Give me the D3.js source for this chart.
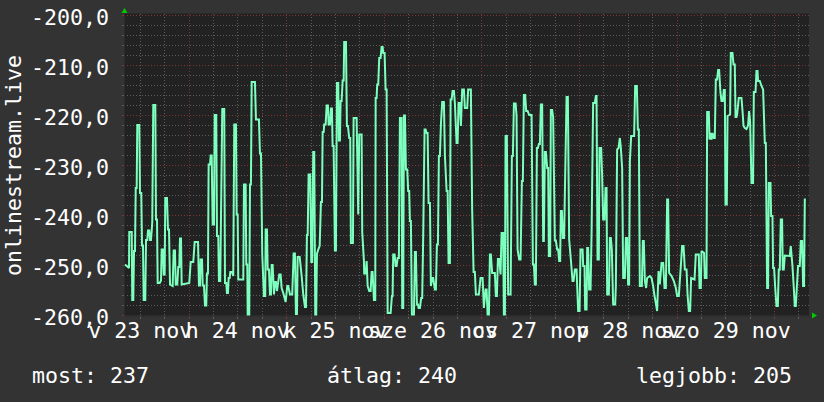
<!DOCTYPE html>
<html><head><meta charset="utf-8">
<script src="https://d3js.org/d3.v7.min.js"></script>
<style>html,body{margin:0;padding:0;background:#333333;} svg{display:block;}</style>
</head><body><svg id="c" width="824" height="402"></svg>
<script>
// ---- data ----
const startUTC = Date.UTC(2025, 10, 23, 8, 8);   // left edge of the graph
const spanMinutes = 10107;                         // ~7 days shown
const minutes = [
15,74,78,114,122,137,148,162,173,187,
196,226,236,255,266,280,291,314,325,344,
354,373,384,398,409,417,432,462,472,487,
497,527,546,556,575,586,600,609,634,649,
664,679,718,733,752,763,786,801,816,826,
841,851,963,984,1022,1043,1092,1106,1121,1131,
1151,1161,1180,1195,1214,1224,1239,1249,1269,1279,
1294,1308,1328,1338,1361,1372,1391,1401,1420,1450,
1479,1490,1509,1519,1534,1544,1559,1568,1593,1612,
1627,1652,1662,1677,1686,1760,1770,1795,1804,1819,
1825,1848,1859,1873,1884,1932,1947,1991,2006,2021,
2040,2065,2084,2090,2109,2120,2139,2154,2168,2179,
2193,2213,2227,2242,2257,2291,2311,2326,2350,2385,
2409,2423,2449,2482,2503,2522,2537,2552,2562,2592,
2621,2645,2670,2685,2699,2710,2724,2748,2763,2777,
2792,2807,2822,2836,2847,2866,2887,2906,2921,2931,
2946,2954,2975,2990,3009,3019,3039,3053,3068,3078,
3093,3112,3127,3142,3161,3171,3186,3196,3211,3226,
3241,3249,3275,3289,3304,3323,3338,3348,3378,3388,
3432,3456,3471,3506,3515,3540,3544,3565,3580,3595,
3618,3639,3654,3668,3688,3707,3713,3727,3736,3751,
3766,3786,3801,3816,3825,3845,3860,3875,3890,3934,
3953,3963,3972,3993,4008,4022,4037,4056,4071,4096,
4105,4120,4130,4145,4160,4179,4193,4208,4219,4233,
4248,4278,4292,4307,4322,4337,4347,4366,4385,4400,
4415,4435,4450,4465,4480,4494,4514,4528,4547,4562,
4587,4602,4617,4632,4646,4661,4676,4695,4720,4735,
4760,4775,4789,4809,4819,4834,4848,4868,4882,4907,
4922,4937,4956,4971,4990,5015,5030,5064,5078,5118,
5137,5158,5177,5192,5236,5261,5291,5310,5335,5350,
5365,5384,5399,5413,5432,5472,5487,5502,5517,5536,
5556,5571,5595,5605,5620,5630,5649,5668,5704,5723,
5738,5753,5778,5792,5807,5831,5851,5871,5885,5900,
5919,5934,5955,5978,6014,6033,6048,6062,6077,6092,
6107,6121,6136,6151,6170,6185,6195,6210,6225,6244,
6259,6269,6288,6298,6317,6332,6357,6372,6391,6406,
6421,6435,6446,6461,6475,6494,6505,6530,6549,6568,
6593,6618,6633,6652,6677,6701,6722,6736,6766,6775,
6795,6804,6825,6834,6848,6863,6884,6899,6922,6947,
6962,6972,6987,7006,7016,7040,7055,7070,7090,7105,
7120,7129,7154,7169,7183,7198,7217,7247,7257,7276,
7297,7316,7331,7350,7365,7390,7405,7424,7438,7453,
7464,7483,7527,7542,7567,7582,7596,7611,7641,7655,
7670,7685,7704,7719,7759,7784,7807,7828,7847,7866,
7887,7906,7931,7955,7975,7995,8014,8028,8043,8079,
8113,8142,8161,8186,8216,8235,8256,8275,8300,8315,
8334,8353,8368,8418,8437,8481,8492,8511,8521,8559,
8570,8595,8604,8629,8639,8654,8669,8683,8703,8717,
8732,8751,8766,8781,8801,8816,8835,8850,8865,8875,
8894,8905,8943,8953,8978,8993,9012,9023,9037,9046,
9071,9111,9126,9141,9160,9185,9208,9223,9238,9259,
9282,9293,9318,9332,9347,9356,9381,9406,9430,9455,
9470,9489,9503,9514,9539,9548,9568,9577,9592,9607,
9627,9647,9661,9676,9691,9710,9720,9735,9750,9824,
9838,9863,9883,9897,9912,9927,9946,9971,9986,10005,
10020,10034,10045,10060
];
const values = [
-249.8,-250.5,-243.3,-243.3,-256.9,-256.9,-247.1,-247.1,-234.5,-234.5,
-221.9,-221.9,-235.5,-235.5,-246.0,-246.0,-256.9,-256.9,-244.9,-244.9,
-243.0,-243.0,-244.9,-244.9,-243.0,-241.3,-217.9,-217.9,-240.8,-240.8,
-253.5,-253.5,-253.0,-246.8,-246.8,-251.8,-251.8,-236.5,-236.5,-242.8,
-242.8,-253.8,-254.1,-247.0,-247.0,-253.8,-253.8,-250.3,-250.3,-244.6,
-244.6,-253.8,-253.5,-249.3,-249.3,-245.3,-245.3,-254.0,-254.0,-248.8,
-248.8,-254.0,-254.0,-258.0,-258.0,-251.6,-251.6,-229.8,-229.8,-228.0,
-228.0,-241.8,-241.8,-219.9,-219.9,-244.1,-244.1,-253.1,-253.1,-218.7,
-218.7,-253.5,-253.5,-255.5,-255.5,-252.5,-252.5,-251.3,-251.3,-252.1,
-221.8,-221.8,-239.8,-239.8,-252.8,-252.8,-233.8,-233.8,-249.8,-249.8,
-259.8,-259.8,-233.8,-233.8,-213.3,-213.3,-220.8,-220.8,-227.6,-227.6,
-247.8,-256.1,-256.1,-242.8,-242.8,-250.8,-250.8,-255.8,-255.8,-249.9,
-249.9,-255.8,-253.3,-253.3,-255.1,-251.8,-251.8,-254.5,-255.5,-257.3,
-254.1,-254.1,-255.8,-255.8,-247.6,-247.6,-259.7,-259.7,-248.3,-248.3,
-252.1,-255.8,-258.3,-258.3,-243.9,-243.9,-231.8,-231.8,-249.3,-249.3,
-227.3,-227.3,-259.8,-259.8,-247.7,-246.8,-246.1,-237.3,-237.3,-223.3,
-223.3,-221.8,-221.8,-218.0,-218.0,-221.8,-221.8,-218.6,-218.6,-226.1,
-226.1,-247.0,-247.0,-213.5,-213.5,-225.0,-225.0,-217.1,-217.1,-213.0,
-213.0,-205.3,-205.3,-222.1,-222.1,-224.5,-224.5,-245.5,-245.5,-220.5,
-220.5,-239.8,-223.8,-223.8,-243.3,-249.1,-251.6,-251.6,-249.1,-254.1,
-255.1,-255.1,-251.3,-251.3,-256.9,-256.9,-216.5,-216.5,-213.8,-213.8,
-208.5,-208.5,-206.3,-206.3,-207.5,-207.5,-214.8,-214.8,-259.5,-259.5,
-256.1,-256.1,-247.8,-247.8,-250.1,-250.1,-248.5,-248.5,-220.5,-220.5,
-258.5,-258.5,-220.0,-220.0,-230.8,-230.8,-235.1,-235.1,-241.1,-241.1,
-259.8,-259.8,-247.3,-247.3,-257.8,-257.8,-258.5,-258.5,-256.5,-256.5,
-243.9,-222.8,-222.8,-223.5,-223.5,-237.5,-237.5,-254.1,-252.5,-252.5,
-254.8,-254.8,-245.8,-245.8,-228.1,-228.1,-221.8,-217.3,-217.3,-228.1,
-235.1,-235.1,-249.5,-249.5,-216.8,-216.8,-215.1,-215.1,-217.5,-225.5,
-225.5,-217.5,-217.5,-222.1,-214.8,-214.8,-218.5,-218.5,-214.8,-214.8,
-238.8,-251.3,-251.3,-255.8,-255.8,-252.5,-252.5,-258.5,-254.8,-254.8,
-259.8,-259.8,-247.8,-247.8,-251.5,-251.5,-256.1,-256.1,-248.7,-248.7,
-251.8,-243.5,-243.5,-259.8,-259.8,-224.1,-224.1,-255.8,-255.8,-228.1,
-228.1,-217.6,-217.6,-220.0,-246.8,-248.8,-248.8,-233.1,-233.1,-215.9,
-215.9,-219.1,-219.1,-219.9,-219.9,-249.8,-249.8,-253.8,-253.8,-226.5,
-226.5,-225.7,-225.7,-217.8,-217.8,-245.1,-245.1,-227.3,-227.3,-230.5,
-230.5,-248.1,-248.1,-218.9,-218.9,-220.3,-245.0,-245.0,-246.8,-246.8,
-249.1,-249.1,-239.1,-239.1,-244.5,-244.5,-235.5,-216.3,-216.3,-244.8,
-248.8,-253.1,-253.1,-250.8,-250.8,-259.1,-259.1,-246.8,-246.8,-250.1,
-250.1,-258.8,-258.8,-246.5,-246.5,-254.8,-254.8,-243.5,-217.5,-217.5,
-216.1,-216.1,-248.8,-248.8,-226.5,-226.5,-232.1,-240.8,-240.8,-234.5,
-234.5,-255.8,-255.8,-244.5,-244.5,-246.8,-257.8,-257.8,-254.1,-226.8,
-226.5,-224.5,-226.5,-230.5,-252.5,-252.5,-244.5,-244.5,-253.8,-253.8,
-229.1,-224.1,-224.1,-214.1,-214.1,-222.8,-222.8,-254.1,-254.1,-245.1,
-245.1,-253.1,-254.5,-252.5,-252.1,-252.5,-254.1,-256.1,-257.5,-259.1,
-251.1,-253.8,-249.5,-249.5,-254.5,-254.5,-236.8,-236.8,-251.5,-252.1,
-253.1,-254.5,-256.1,-256.1,-250.1,-246.1,-246.1,-250.8,-250.8,-255.8,
-259.1,-259.1,-252.5,-252.8,-247.8,-247.8,-254.5,-254.5,-247.1,-247.5,
-252.5,-252.5,-219.3,-219.3,-224.8,-223.5,-224.8,-223.5,-224.5,-224.5,
-212.8,-212.8,-210.9,-210.9,-215.5,-217.1,-217.1,-214.9,-214.9,-237.8,
-237.8,-220.1,-219.8,-207.5,-207.5,-209.8,-209.8,-220.3,-220.3,-219.8,
-216.5,-216.5,-219.1,-222.1,-222.5,-222.7,-222.0,-219.1,-221.1,-233.5,
-233.5,-215.3,-215.3,-211.1,-211.1,-213.1,-213.1,-214.1,-214.8,-225.5,
-225.5,-254.5,-254.5,-233.5,-233.5,-240.1,-240.1,-250.5,-250.5,-254.1,
-258.1,-258.1,-250.8,-250.8,-240.8,-240.8,-250.8,-250.8,-248.0,-248.1,
-246.1,-250.1,-254.5,-258.1,-258.1,-254.5,-250.1,-250.1,-245.1,-245.1,
-254.1,-254.1,-236.8,-236.8
];
const yDomain = [-260, -200];
const yTicks = [-200, -210, -220, -230, -240, -250, -260];
const dayNumbers = [23, 24, 25, 26, 27, 28, 29];
const dayLabels = ["v 23 nov", "h 24 nov", "k 25 nov", "sze 26 nov", "cs 27 nov", "p 28 nov", "szo 29 nov"];
const seriesName = "onlinestream.live";
const legendNames = ["most", "átlag", "legjobb"];
const legendValues = [237, 240, 205];

// ---- drawing ----
const W = 824, H = 402;
const L = 124, R = 809, T = 15.5, B = 315.5;
const FONT = "DejaVu Sans Mono";
const FS = 21.6;
const svg = d3.select("#c");
svg.append("rect").attr("width", W).attr("height", H).attr("fill", "#333333");

const start = new Date(startUTC);
const end = new Date(startUTC + spanMinutes * 60000);
const x = d3.scaleUtc().domain([start, end]).range([L, R]);
const y = d3.scaleLinear().domain(yDomain).range([B, T]);

svg.append("rect").attr("x", L).attr("y", T - 2).attr("width", R - L).attr("height", B - T + 2)
  .attr("fill", "#222222");

const minorCol = "#5c5c5c", majorCol = "#7e3535";
// horizontal grid
const hGrid = d3.range(yDomain[0], yDomain[1] + 0.001, 2);
const isMajorY = v => Math.abs(v % 10) < 1e-6;
svg.append("g").selectAll("line").data(hGrid.filter(v => v !== yDomain[0])).join("line")
  .attr("x1", L).attr("x2", R).attr("y1", d => y(d)).attr("y2", d => y(d))
  .attr("stroke", d => isMajorY(d) ? majorCol : minorCol).attr("stroke-width", 1)
  .attr("stroke-dasharray", "1,2").attr("shape-rendering", "crispEdges");
svg.append("g").selectAll("line").data(hGrid).join("line")
  .attr("x1", L - 2).attr("x2", L + 1).attr("y1", d => y(d)).attr("y2", d => y(d))
  .attr("stroke", d => isMajorY(d) ? majorCol : minorCol).attr("shape-rendering", "crispEdges");

// vertical grid
const vGrid = d3.utcHour.every(6).range(start, end);
const isMajorX = d => d.getUTCHours() === 0;
svg.append("g").selectAll("line").data(vGrid).join("line")
  .attr("x1", d => Math.round(x(d)) + 0.5).attr("x2", d => Math.round(x(d)) + 0.5)
  .attr("y1", T - 2).attr("y2", B)
  .attr("stroke", d => isMajorX(d) ? majorCol : minorCol)
  .attr("stroke-dasharray", "1,2").attr("shape-rendering", "crispEdges");
svg.append("g").selectAll("line").data(vGrid).join("line")
  .attr("x1", d => Math.round(x(d)) + 0.5).attr("x2", d => Math.round(x(d)) + 0.5)
  .attr("y1", B).attr("y2", B + 3)
  .attr("stroke", d => isMajorX(d) ? majorCol : minorCol).attr("shape-rendering", "crispEdges");

// axis lines
svg.append("line").attr("x1", L + 0.5).attr("x2", L + 0.5).attr("y1", B + 1).attr("y2", T - 3)
  .attr("stroke", "#2c2c2c");
svg.append("line").attr("x1", L).attr("x2", R + 3).attr("y1", B + 0.5).attr("y2", B + 0.5)
  .attr("stroke", "#2c2c2c");
// arrows
svg.append("path").attr("d", `M${L - 2.5},${T - 2.5} L${L + 3.5},${T - 2.5} L${L + 0.5},${T - 7.5} Z`).attr("fill", "#00cc00");
svg.append("path").attr("d", `M${R + 3},${B - 3} L${R + 3},${B + 3} L${R + 8},${B} Z`).attr("fill", "#00cc00");

// data line
const n = Math.min(minutes.length, values.length);
const pts = d3.range(n).map(i => ({ t: new Date(startUTC + minutes[i] * 60000), v: values[i] }));
const line = d3.line().x(d => x(d.t)).y(d => y(d.v));
svg.append("path").datum(pts).attr("d", line)
  .attr("fill", "none").attr("stroke", "#7dffbe").attr("stroke-width", 2)
  .attr("stroke-linejoin", "miter").attr("stroke-miterlimit", 2);

// y labels
const fmt = d3.formatLocale({ decimal: ",", thousands: " ", grouping: [3], currency: ["", ""], minus: "-" }).format(".1f");
const yAxis = svg.append("g").attr("transform", "translate(109,0)")
  .call(d3.axisLeft(y).tickValues(yTicks).tickFormat(fmt).tickSize(0).tickPadding(0));
yAxis.select(".domain").remove();
yAxis.selectAll("text").attr("fill", "#ffffff").attr("font-family", FONT).attr("font-size", FS)
  .attr("dy", "0.40em");

// x labels centred on noon of each day
const noons = dayNumbers.map(d => new Date(Date.UTC(2025, 10, d, 12, 0)));
const xAxis = svg.append("g").attr("transform", "translate(0,337.5)")
  .call(d3.axisBottom(x).tickValues(noons).tickFormat((d, i) => dayLabels[i]).tickSize(0).tickPadding(0));
xAxis.select(".domain").remove();
xAxis.selectAll("text").attr("fill", "#ffffff").attr("font-family", FONT).attr("font-size", FS)
  .attr("y", 0).attr("dy", 0);

// vertical title
svg.append("text").attr("transform", `translate(21,${(T + B) / 2}) rotate(-90)`)
  .attr("text-anchor", "middle").attr("fill", "#ffffff").attr("font-family", FONT).attr("font-size", FS)
  .text(seriesName);

// legend
const legendX = [32, 327, 636];
svg.append("g").selectAll("text").data(legendNames).join("text")
  .attr("x", (d, i) => legendX[i]).attr("y", 383)
  .attr("fill", "#ffffff").attr("font-family", FONT).attr("font-size", FS)
  .text((d, i) => `${d}: ${legendValues[i]}`);
</script>
</body></html>
